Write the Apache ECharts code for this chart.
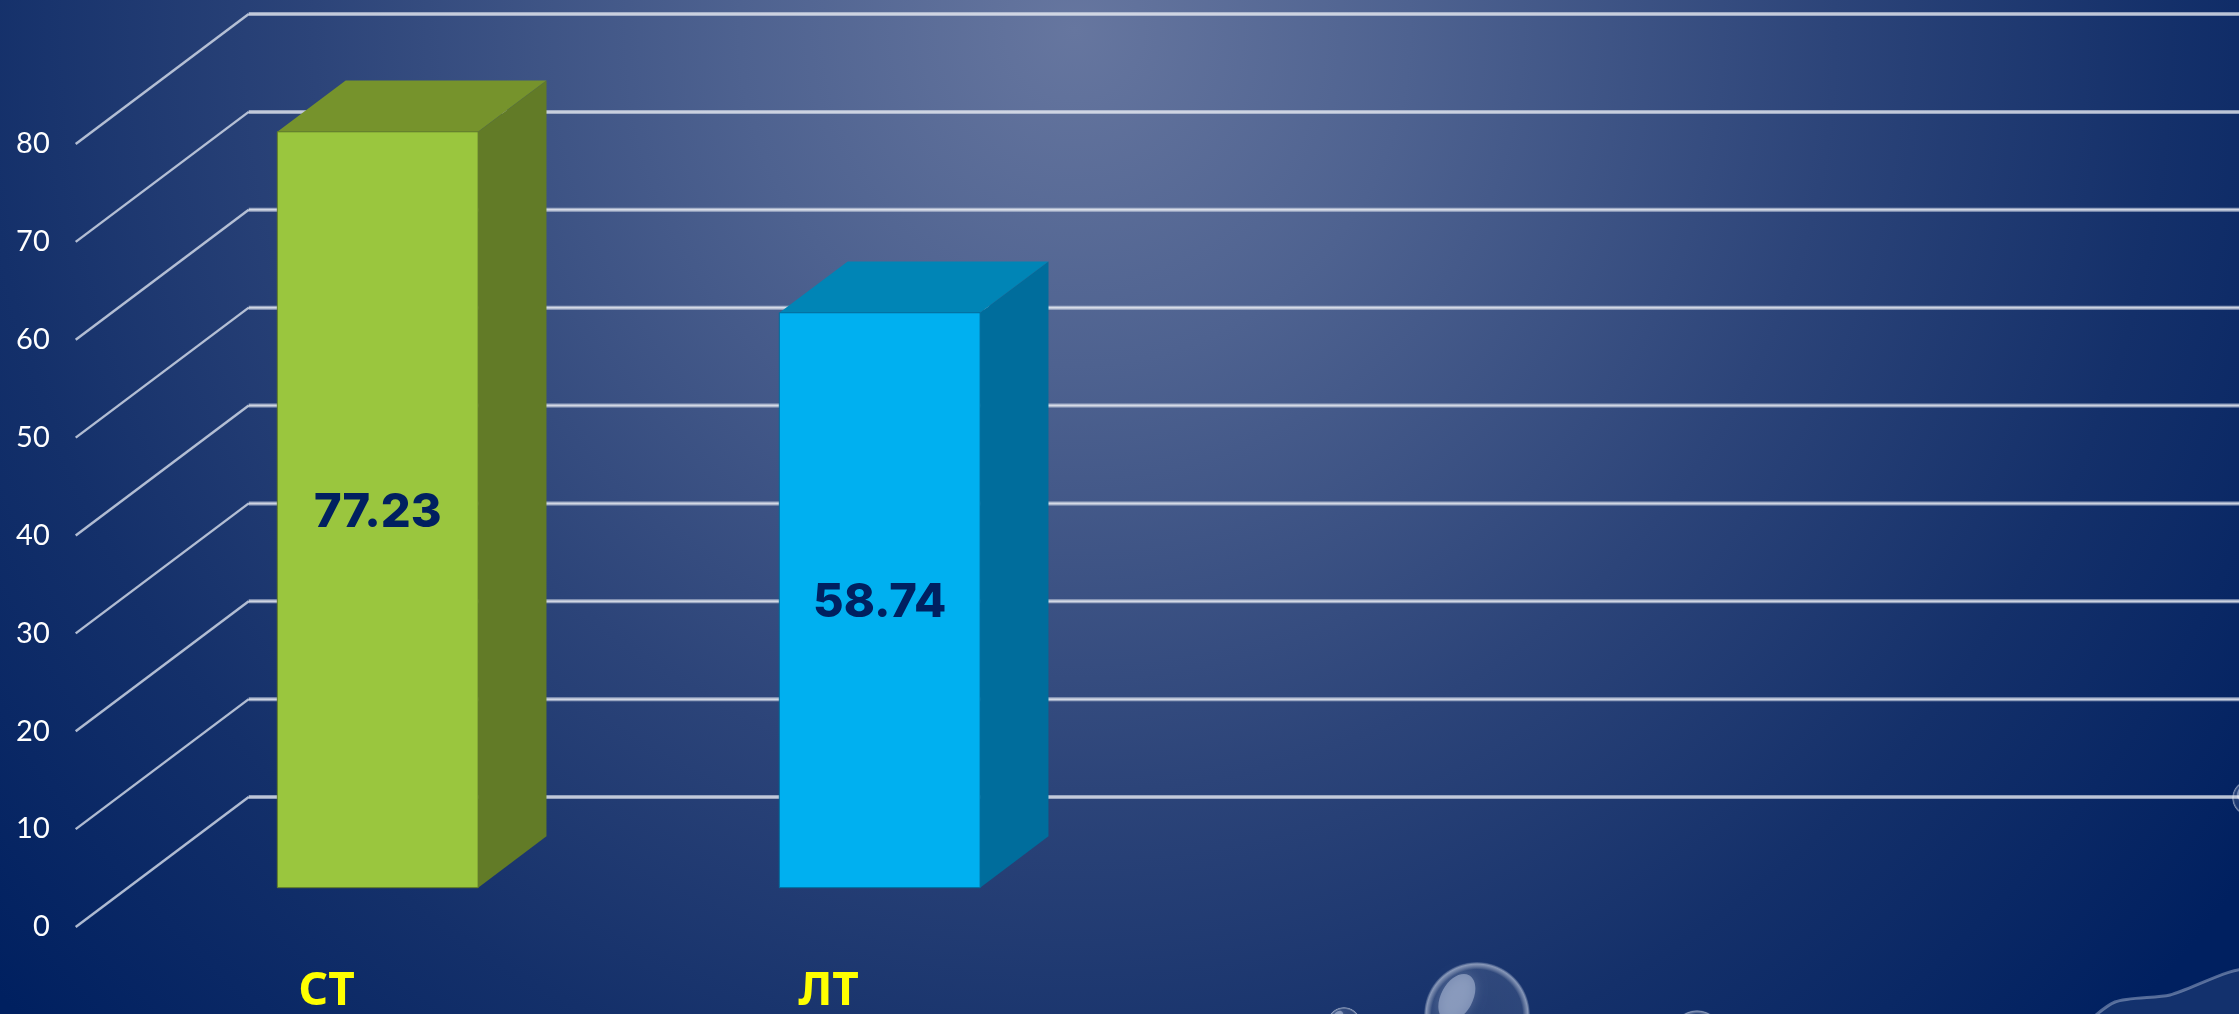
<!DOCTYPE html>
<html>
<head>
<meta charset="utf-8">
<style>html,body{margin:0;padding:0;background:#002060;overflow:hidden}#c{width:2239px;height:1014px}</style>
<script src="https://cdn.jsdelivr.net/npm/echarts@6/dist/echarts.min.js"></script>
</head>
<body>
<div id="c"></div>
<script>
const categories = ['СТ', 'ЛТ', '', ''];
const values = [77.23, 58.74];
const faceColors = ['#9AC63E', '#00B0F0'];
const topColors = ['#76932C', '#0085B6'];
const sideColors = ['#627B27', '#006D9C'];
const yTicks = [0, 10, 20, 30, 40, 50, 60, 70, 80];

const DEPTH_X = 173, DEPTH_Y = 130, START_X = 0.295, START_Y = 0.3025, THICK = 0.395, BAR_BAND = 0.4;

function bubble(cx, cy, r) {
  return [
    { type: 'circle', silent: true, shape: { cx, cy, r },
      style: { fill: { type: 'radial', x: 0.5, y: 0.5, r: 0.5, colorStops: [
        { offset: 0, color: 'rgba(255,255,255,0.09)' },
        { offset: 0.86, color: 'rgba(255,255,255,0.10)' },
        { offset: 0.96, color: 'rgba(225,232,245,0.55)' },
        { offset: 1, color: 'rgba(225,232,245,0.10)' }] } } },
    { type: 'ellipse', silent: true, shape: { cx: cx - r * 0.38, cy: cy - r * 0.33, rx: r * 0.3, ry: r * 0.48 },
      rotation: -0.5, originX: cx - r * 0.38, originY: cy - r * 0.33,
      style: { fill: 'rgba(205,216,238,0.45)', shadowBlur: r * 0.2, shadowColor: 'rgba(205,216,238,0.5)' } }
  ];
}

const chart = echarts.init(document.getElementById('c'), null, { renderer: 'canvas' });
chart.setOption({
  animation: false,
  backgroundColor: {
    type: 'radial', x: 0.48, y: 0.03, r: 1.5,
    colorStops: [
      { offset: 0, color: '#66769F' },
      { offset: 0.22, color: '#4E6290' },
      { offset: 0.5, color: '#2C4479' },
      { offset: 0.72, color: '#14306A' },
      { offset: 0.95, color: '#002060' }
    ]
  },
  graphic: {
    elements: [
      ...bubble(1477, 1015, 53),
      ...bubble(1344, 1024, 17),
      ...bubble(1697, 1036, 26),
      ...bubble(2250, 798, 18),
      { type: 'polygon', silent: true,
        shape: { smooth: 0.25, points: [[2085, 1030], [2115, 1002], [2170, 995], [2250, 970], [2280, 1040]] },
        style: { fill: 'rgba(190,205,230,0.10)', stroke: 'rgba(205,215,235,0.4)', lineWidth: 3 } }
    ]
  },
  grid: { left: 75.7, top: 144, width: 2008, height: 783, containLabel: false, outerBoundsMode: 'none' },
  xAxis: {
    type: 'category', data: categories,
    axisLine: { show: false }, axisTick: { show: false }, splitLine: { show: false },
    axisLabel: { color: '#FFFF00', fontFamily: 'Noto Sans', fontWeight: 'bold', fontSize: 46, margin: 42, interval: 0 }
  },
  yAxis: {
    type: 'value', min: 0, max: 80, interval: 10,
    axisLine: { show: false }, axisTick: { show: false }, splitLine: { show: false },
    axisLabel: { color: '#FFFFFF', fontFamily: 'Lato', fontSize: 29, margin: 26, padding: [5, 0, 0, 0] }
  },
  series: [
    {
      type: 'custom', coordinateSystem: 'cartesian2d', z: 1, silent: true,
      data: yTicks.map(v => [0, v]),
      encode: { x: 0, y: 1 },
      renderItem: (params, api) => {
        const size = api.getWidth();
        const p = api.coord([0, api.value(1)]);
        const band = api.size([1, 0])[0];
        const x0 = p[0] - band / 2;
        const bx = x0 + DEPTH_X, by = p[1] - DEPTH_Y;
        return {
          type: 'group', children: [
            { type: 'line', shape: { x1: x0, y1: p[1], x2: bx, y2: by },
              style: { stroke: 'rgba(222,228,240,0.78)', lineWidth: 2.5 } },
            { type: 'line', shape: { x1: bx, y1: by, x2: size, y2: by },
              style: { stroke: 'rgba(226,231,242,0.6)', lineWidth: 4 } },
            { type: 'line', shape: { x1: bx, y1: by, x2: size, y2: by },
              style: { stroke: 'rgba(255,255,255,0.55)', lineWidth: 1.5 } }
          ]
        };
      }
    },
    {
      type: 'custom', coordinateSystem: 'cartesian2d', z: 3, silent: true,
      data: values.map((v, i) => [i, v]),
      encode: { x: 0, y: 1 },
      renderItem: (params, api) => {
        const i = api.value(0), v = api.value(1);
        const c = api.coord([i, 0]), t = api.coord([i, v]);
        const band = api.size([1, 0])[0], w = band * BAR_BAND;
        const ox = DEPTH_X * START_X, oy = DEPTH_Y * START_Y;
        const dx = DEPTH_X * THICK, dy = DEPTH_Y * THICK;
        const l = c[0] + ox - w / 2, r = l + w, b = c[1] - oy, top = t[1] - oy;
        return {
          type: 'group', children: [
            { type: 'polygon', shape: { points: [[l, top], [r, top], [r + dx, top - dy], [l + dx, top - dy]] },
              style: { fill: topColors[i] } },
            { type: 'polygon', shape: { points: [[r, top], [r + dx, top - dy], [r + dx, b - dy], [r, b]] },
              style: { fill: sideColors[i] } },
            { type: 'rect', shape: { x: l, y: top, width: w, height: b - top },
              style: { fill: faceColors[i], stroke: sideColors[i], lineWidth: 1 } },
            { type: 'text', x: l + w / 2, y: (top + b) / 2 + 3,
              style: { text: v.toFixed(2), fill: '#002060', fontFamily: 'Inter', fontWeight: 800, fontSize: 47,
                align: 'center', verticalAlign: 'middle' } }
          ]
        };
      }
    }
  ]
});
</script>
</body>
</html>
